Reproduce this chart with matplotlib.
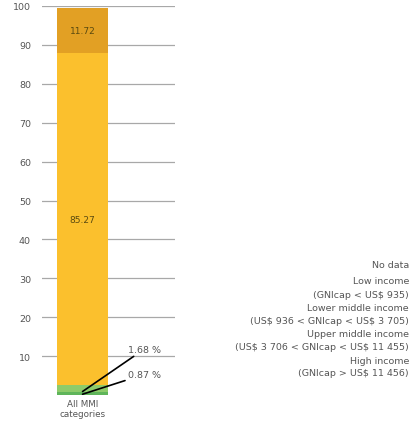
import matplotlib
matplotlib.use("Agg")
import matplotlib.pyplot as plt

plt.rcParams["text.parse_math"] = False

category = ["All MMI\ncategories"]
segment_names = ["High income", "Upper middle income", "Lower middle income", "Low income"]
segment_values = [0.87, 1.68, 85.27, 11.72]
segment_colors = ["#5FB55A", "#8DCB6A", "#FBC02D", "#E2A024"]
yticks = [10, 20, 30, 40, 50, 60, 70, 80, 90, 100]
legend_lines = ["No data", "Low income", "(GNIcap < US$ 935)", "Lower middle income",
                "(US$ 936 < GNIcap < US$ 3 705)", "Upper middle income",
                "(US$ 3 706 < GNIcap < US$ 11 455)", "High income", "(GNIcap > US$ 11 456)"]

fig = plt.figure(figsize=(4.10, 4.31), dpi=100)
ax = fig.add_axes([42/410, 1-396/431, 133/410, 389/431])
ax.set_xlim(0, 1)
ax.set_ylim(0, 100)

for y in yticks:
    ax.axhline(y, color="#a8a8a8", lw=0.9, zorder=0)

bottom = 0
xc = 0.305
w = 0.383
for v, c in zip(segment_values, segment_colors):
    ax.bar(xc, v, width=w, bottom=bottom, color=c, zorder=2, edgecolor="none")
    bottom += v

ax.text(xc, segment_values[0] + segment_values[1] + segment_values[2] / 2, f"{segment_values[2]:.2f}",
        ha="center", va="center", fontsize=6.5, color="#5a4a10", zorder=3)
ax.text(xc, sum(segment_values[:3]) + segment_values[3] / 2, f"{segment_values[3]:.2f}",
        ha="center", va="center", fontsize=6.5, color="#5a4a10", zorder=3)

ax.annotate(f"{segment_values[1]:.2f} %", xy=(xc, 0.9), xytext=(0.645, 11.8),
            fontsize=6.8, color="#555555", va="center", ha="left",
            arrowprops=dict(arrowstyle="-", color="black", lw=1.2, shrinkA=0, shrinkB=0))
ax.annotate(f"{segment_values[0]:.2f} %", xy=(xc, 0.2), xytext=(0.645, 5.3),
            fontsize=6.8, color="#555555", va="center", ha="left",
            arrowprops=dict(arrowstyle="-", color="black", lw=1.2, shrinkA=0, shrinkB=0))

ax.set_yticks(yticks)
ax.set_yticklabels([str(t) for t in yticks], fontsize=6.8, color="#555555")
ax.tick_params(axis="y", length=0, pad=8)
ax.set_xticks([xc])
ax.set_xticklabels(category, fontsize=6.3, color="#555555", linespacing=1.1)
ax.tick_params(axis="x", length=0, pad=3)
for s in ax.spines.values():
    s.set_visible(False)

ys = [266, 282, 295, 309, 322, 335, 348, 362, 374]
for txt, y in zip(legend_lines, ys):
    fig.text(409/410, 1 - y/431, txt, ha="right", va="center", fontsize=6.8, color="#555555")

fig.savefig("out.png", dpi=100)
